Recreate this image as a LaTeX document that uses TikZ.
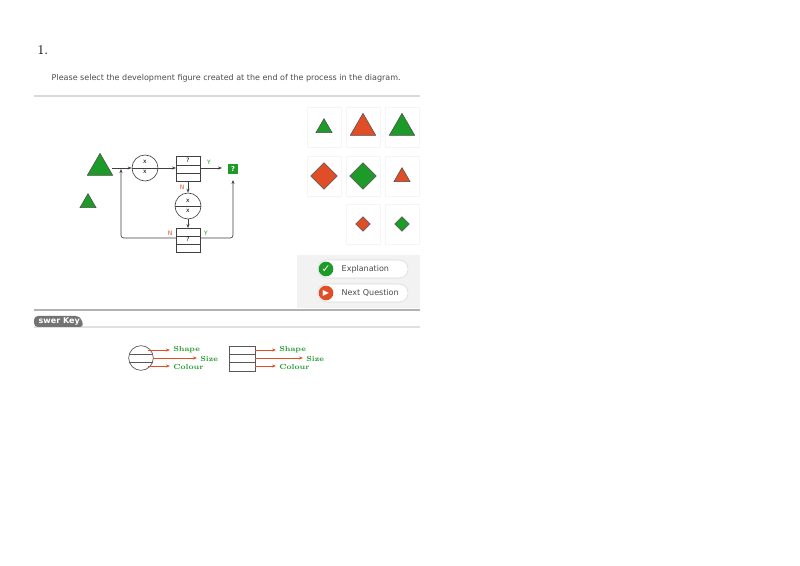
\documentclass[tikz,border=0pt]{standalone}
\usepackage{fontspec}
\setsansfont{DejaVu Sans}
\usetikzlibrary{arrows.meta,shapes.geometric}
\definecolor{gr}{HTML}{1E9A28}
\definecolor{orr}{HTML}{E04E28}
\definecolor{panel}{HTML}{F2F2F2}
\begin{document}
\begin{tikzpicture}[x=0.75pt,y=-0.75pt,
  ln/.style={draw=black!75,line width=0.5pt},
  arr/.style={ln,-{Stealth[length=3pt]}},
  oarr/.style={draw=orr,line width=0.5pt,-{Stealth[length=3pt]}},
  tiny/.style={font=\sffamily\fontsize{4.5}{5}\selectfont,inner sep=0pt},
  key/.style={font=\rmfamily\bfseries\fontsize{5.5}{6}\selectfont,text=gr,inner sep=0pt,anchor=west},
  tile/.style={fill=white,draw=black!4},
  tri/.style={regular polygon,regular polygon sides=3,draw=black!70,line width=0.4pt,inner sep=0pt},
  dia/.style={diamond,draw=black!70,line width=0.4pt,inner sep=0pt,aspect=1},
  btn/.style={draw=black!15,fill=white,rounded corners=6.5pt}]
\useasboundingbox (0,0) rectangle (800,566);
\fill[white] (0,0) rectangle (800,566);
\node[anchor=west,font=\rmfamily\fontsize{10}{12}\selectfont] (num) at (33,50) {1.};
\node[anchor=west,font=\sffamily\fontsize{6}{7}\selectfont,text=black!70] (q) at (47,78) {Please select the development figure created at the end of the process in the diagram.};
\draw[black!15,line width=1.5pt] (34,96) -- (420,96);
\fill[panel] (297,97) rectangle (420,308);
\fill[white] (297,97) rectangle (420,255);
\foreach \cx/\cy in {324/127,363/127,402/127,324/176,363/176,402/176,363/224,402/224}
  \draw[tile] (\cx-17,\cy-20) rectangle (\cx+17,\cy+20);
\node[tri,fill=gr,minimum size=14pt] (t1) at (324,128) {};
\node[tri,fill=orr,minimum size=22pt] (t2) at (363,128) {};
\node[tri,fill=gr,minimum size=22pt] (t3) at (402,128) {};
\node[dia,fill=orr,minimum size=20pt] (d1) at (324,176) {};
\node[dia,fill=gr,minimum size=20pt] (d2) at (363,176) {};
\node[tri,fill=orr,minimum size=14pt] (t4) at (402,177) {};
\node[dia,fill=orr,minimum size=11pt] (d3) at (363,224) {};
\node[dia,fill=gr,minimum size=11pt] (d4) at (402,224) {};
\draw[btn] (318,260) rectangle (408,278);
\draw[btn] (318,284) rectangle (408,302);
\node[circle,fill=gr,minimum size=11pt,inner sep=0pt,text=white,font=\fontsize{8}{8}\selectfont\bfseries] (ic1) at (326,269) {\fontspec{DejaVu Sans}✓};
\node[circle,fill=orr,minimum size=11pt,inner sep=0pt,text=white,font=\fontsize{6}{6}\selectfont] (ic2) at (326,293) {\fontspec{DejaVu Sans}▶};
\node[anchor=west,font=\sffamily\fontsize{6}{7}\selectfont,text=black!70] (b1) at (337,269) {Explanation};
\node[anchor=west,font=\sffamily\fontsize{6}{7}\selectfont,text=black!70] (b2) at (337,293) {Next Question};
\draw[black!30,line width=1.5pt] (34,310) -- (420,310);
\draw[black!12,line width=0.8pt] (34,327) -- (420,327);
\fill[black!55,rounded corners=3pt] (34,316) -- (80,316) -- (84,327) -- (34,327) -- cycle;
\node[anchor=west,font=\sffamily\bfseries\fontsize{6}{7}\selectfont,text=white] (ak) at (34,321) {swer Key};
% process diagram
\node[tri,fill=gr,minimum size=22pt] (big) at (100,168) {};
\node[tri,fill=gr,minimum size=14pt] (small) at (88,203) {};
\node[circle,draw=black!75,line width=0.5pt,inner sep=0pt,minimum size=19.5pt] (c1) at (145,168) {};
\draw[ln] (c1.west) -- (c1.east);
\node[tiny] at (145,162) {x}; \node[tiny] at (145,172) {x};
\draw[ln] (176,156) rectangle (200,181);
\coordinate (b1w) at (176,168); \coordinate (b1e) at (200,168);
\draw[ln] (176,165) -- (200,165) (176,173) -- (200,173);
\node[tiny] at (188,160) {?};
\node[fill=gr,minimum size=8pt,inner sep=0pt,text=white,font=\sffamily\bfseries\fontsize{5}{5}\selectfont] (res) at (233,169) {?};
\node[tiny,text=gr] at (209,162) {Y};
\node[circle,draw=black!75,line width=0.5pt,inner sep=0pt,minimum size=19.5pt] (c2) at (188,206) {};
\draw[ln] (c2.west) -- (c2.east);
\node[tiny] at (188,201) {x}; \node[tiny] at (188,211) {x};
\node[tiny,text=orr] at (182,187) {N};
\draw[ln] (176,228) rectangle (200,252);
\draw[ln] (176,236) -- (200,236) (176,244) -- (200,244);
\node[tiny] at (188,239) {?};
\node[tiny,text=orr] at (170,233) {N};
\node[tiny,text=gr] at (206,233) {Y};
\draw[arr] (112,168) -- (c1.west);
\draw[arr] (c1.east) -- (b1w);
\draw[arr] (b1e) -- (222,168);
\draw[arr] (188,181) -- (c2.north);
\draw[arr] (c2.south) -- (188,228);
\draw[ln,rounded corners=2pt,-{Stealth[length=3pt]}] (176,238) -- (121,238) -- (121,169);
\draw[ln,rounded corners=2pt,-{Stealth[length=3pt]}] (200,238) -- (233,238) -- (233,180);
% answer key
\node[circle,draw=black!65,line width=0.5pt,inner sep=0pt,minimum size=18.5pt] (kc) at (141,358) {};
\begin{scope}
\clip (141,358) circle (12.3);
\draw[black!65,line width=0.5pt] (128,354) -- (154,354) (128,362) -- (154,362);
\end{scope}
\draw[oarr] (148,350) -- (170,350); \draw[oarr] (153,358) -- (197,358); \draw[oarr] (148,366) -- (170,366);
\node[key] at (173,350) {Shape}; \node[key] at (200,359) {Size}; \node[key] at (173,367) {Colour};
\draw[black!65,line width=0.5pt] (229,346) rectangle (255,371) (229,354) -- (255,354) (229,362) -- (255,362);
\draw[oarr] (255,350) -- (276,350); \draw[oarr] (255,358) -- (303,358); \draw[oarr] (255,366) -- (276,366);
\node[key] at (279,350) {Shape}; \node[key] at (306,359) {Size}; \node[key] at (279,367) {Colour};
\end{tikzpicture}
\end{document}
